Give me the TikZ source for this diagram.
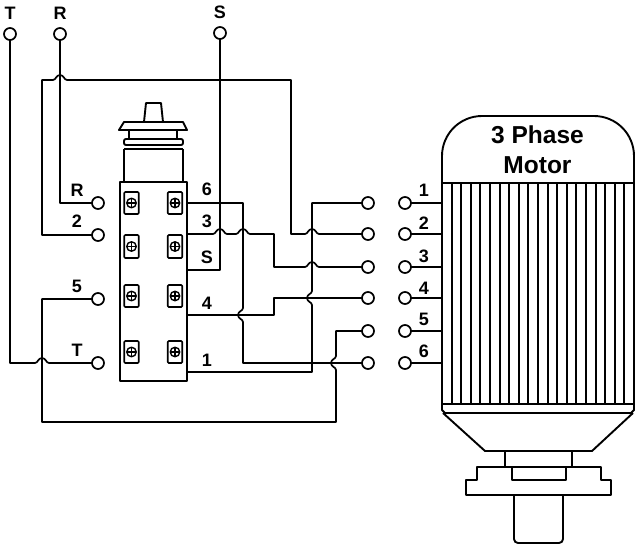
\documentclass[tikz,border=0pt]{standalone}
\usepackage{fontspec}
\setmainfont{Liberation Sans}
\begin{document}
\begin{tikzpicture}[x=1pt,y=-1pt,line join=round,
  every node/.style={inner sep=0pt,outer sep=0pt},
  wire/.style={line width=1.7pt},
  part/.style={line width=1.9pt},
  term/.style={circle,draw,line width=1.7pt,fill=white,minimum size=12pt},
  lab/.style={font=\bfseries\fontsize{18}{18}\selectfont},
  screwbox/.style={draw,line width=1.7pt,rounded corners=1pt,minimum width=14.5pt,minimum height=22pt},
  hoph/.style={insert path={-- ([xshift=-7pt]#1) .. controls ([xshift=-4pt,yshift=0pt]#1) and ([xshift=-4pt,yshift=5pt]#1) .. ([yshift=5pt]#1) .. controls ([xshift=4pt,yshift=5pt]#1) and ([xshift=4pt]#1) .. ([xshift=7pt]#1)}},
  hopv/.style={insert path={-- ([yshift=7pt]#1) .. controls ([yshift=4pt]#1) and ([xshift=-5pt,yshift=4pt]#1) .. ([xshift=-5pt]#1) .. controls ([xshift=-5pt,yshift=-4pt]#1) and ([yshift=-4pt]#1) .. ([yshift=-7pt]#1)}}]
\useasboundingbox (0,0) rectangle (635,544);

% terminals
\node[term] (tT) at (10,34) {};
\node[term] (tR) at (60,34) {};
\node[term] (tS) at (220,33) {};
\node[term] (lR) at (98,203) {};
\node[term] (l2) at (98,235) {};
\node[term] (l5) at (98,299) {};
\node[term] (lT) at (98,363) {};
\foreach \n/\y in {1/203,2/234,3/267,4/298,5/331,6/363}{
  \node[term] (a\n) at (368,\y) {};
  \node[term] (b\n) at (405,\y) {};
}

% switch
\node[draw,part,minimum width=67pt,minimum height=199pt] (sw) at (153.5,281.5) {};
\foreach \i/\y/\h in {1/203/22,2/246.5/23,3/296/22,4/352/22}{
  \foreach \s/\x in {a/131.5,b/175}{
    \node[screwbox,minimum height=\h pt] (sb\s\i) at (\x,\y) {};
    \node[circle,draw,line width=1.4pt,minimum size=9.5pt] (sc\s\i) at (\x,\y) {};
    \draw[line width=1.2pt] (sc\s\i.north) -- (sc\s\i.south) (sc\s\i.west) -- (sc\s\i.east);
  }
}
% knob
\draw[part] (144,122) -- (146,103) -- (161,103) -- (163,122);
\draw[part,fill=white] (119,130) -- (124,122) -- (183,122) -- (187,130) -- cycle;
\draw[part] (129,130) -- (129,139) (177,130) -- (177,139);
\draw[part,rounded corners=2pt] (124,139) rectangle (183,145);
\draw[part] (124,149) -- (183,149) (124,149) -- (124,182) (183,149) -- (183,182);

% motor
\draw[part] (442,183) -- (442,156) arc[start angle=180,end angle=270,x radius=40pt,y radius=-40pt] -- (594,116) arc[start angle=270,end angle=360,x radius=40pt,y radius=-40pt] -- (634,183) -- cycle;
\foreach \i in {0,...,20}{ \draw[part] ({442+\i*9.6},183) -- ({442+\i*9.6},404); }
\draw[part] (442,404) -- (634,404);
\draw[part] (442,404) -- (442,410) -- (445,413) -- (631,413) -- (634,410) -- (634,404);
\draw[part] (443,413) -- (485,451) -- (592,451) -- (633,413);
\draw[part] (505,451) -- (505,467) (572,451) -- (572,467);
\draw[part] (477,480) -- (477,467) -- (601,467) -- (601,480) -- (611,480) -- (611,495) -- (466,495) -- (466,480) -- cycle;
\draw[part] (512,467) -- (512,480) -- (566,480) -- (566,467);
\draw[part,rounded corners=4pt] (514,495) -- (514,543) -- (563,543) -- (563,495);
\node[font=\bfseries\fontsize{24.5}{30}\selectfont,align=center] (mtext) at (537.5,150) {3 Phase\\Motor};

% hop centres
\coordinate (h1) at (60,80);
\coordinate (h2) at (312,234);
\coordinate (h3) at (312,267);
\coordinate (h4) at (220,234);
\coordinate (h5) at (243,234);
\coordinate (h6) at (42,363);
\coordinate (v1) at (243,315);
\coordinate (v2) at (312,298);
\coordinate (v3) at (336,363);
% switch side wire ends
\coordinate (p6) at (187,203);
\coordinate (p3) at (187,234);
\coordinate (pS) at (187,270);
\coordinate (p4) at (187,315);
\coordinate (p1) at (187,372);

% wires
\draw[wire] (tT.south) -- (10,363) [hoph=h6] -- (lT.west);
\draw[wire] (tR.south) -- (60,203) -- (lR.west);
\draw[wire] (tS.south) -- (220,270) -- (pS);
\draw[wire] (l2.west) -- (42,235) -- (42,80) [hoph=h1] -- (291,80) -- (291,234) [hoph=h2] -- (a2.west);
\draw[wire] (a5.west) -- (336,331) [hopv=v3] -- (336,422) -- (42,422) -- (42,299) -- (l5.west);
\draw[wire] (p6) -- (243,203) [hopv=v1] -- (243,363) -- (a6.west);
\draw[wire] (p3) [hoph=h4] [hoph=h5] -- (274,234) -- (274,267) [hoph=h3] -- (a3.west);
\draw[wire] (p4) -- (274,315) -- (274,298) -- (a4.west);
\draw[wire] (a1.west) -- (312,203) [hopv=v2] -- (312,372) -- (p1);
\foreach \n/\y in {1/203,2/234,3/267,4/298,5/331,6/363}{
  \draw[wire] (b\n.east) -- (442,\y);
}

% labels
\foreach \t/\x/\y/\m in {T/10/13/lTT,R/60/13/lRR,S/220/12/lSS,R/77/190/iR,2/77/221/i2,5/77/286/i5,T/77/350/iT,6/207/189/o6,3/207/221/o3,S/207/257/oS,4/207/303/o4,1/207/360/o1,1/424/190/m1,2/424/223/m2,3/424/256/m3,4/424/288/m4,5/424/319/m5,6/424/351/m6}{
  \node[lab] (\m) at (\x,\y) {\t};
}
\end{tikzpicture}
\end{document}
